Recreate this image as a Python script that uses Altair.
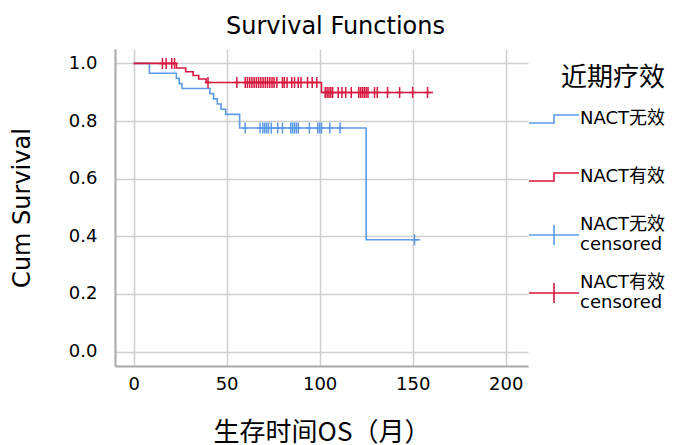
import altair as alt
import pandas as pd

# Kaplan-Meier step curves (time in months, cumulative survival)
blue_t = [0, 8.5, 23, 24.5, 26, 41, 43, 45, 47, 49.5, 57, 125, 154]
blue_s = [1.0, 0.966, 0.948, 0.930, 0.913, 0.895, 0.877, 0.859, 0.841, 0.823, 0.776, 0.388, 0.388]
red_t = [0, 23, 28, 32, 35, 39, 101, 161]
red_s = [1.0, 0.984, 0.971, 0.958, 0.946, 0.934, 0.899, 0.899]

# censored times
blue_cens = [60, 68, 69.5, 70.5, 71.5, 72.5, 74, 77.5, 80, 84.5, 85.5, 86.5, 87.5, 88.5,
             94.5, 99, 100, 101, 105.5, 111, 151]
red_cens = [15.5, 17.5, 20.5, 22, 40, 55.5, 60, 61.2, 62.4, 63.6, 64.8, 66, 67.2, 68.4, 69.6,
            70.8, 72, 73.2, 74.4, 75.5, 77, 80, 81, 82.5, 85, 86.5, 88.5, 90, 93.5, 96, 98.5,
            103, 104, 105, 106, 107, 110, 112, 114, 117, 121, 122, 123, 124, 125, 126, 129.5,
            131, 136.5, 143, 150, 158]

groups = ["NACT无效", "NACT有效", "NACT无效 censored", "NACT有效 censored"]
colors = ["#5b9be8", "#d8173f", "#5b9be8", "#d8173f"]


def surv_at(t, ts, ss):
    v = ss[0]
    for tt, s in zip(ts, ss):
        if tt <= t:
            v = s
    return v


line_rows = [{"t": t, "s": s, "group": groups[0]} for t, s in zip(blue_t, blue_s)]
line_rows += [{"t": t, "s": s, "group": groups[1]} for t, s in zip(red_t, red_s)]
line_df = pd.DataFrame(line_rows)

cens_rows = [{"t": t, "s": surv_at(t, blue_t, blue_s), "group": groups[2]} for t in blue_cens]
cens_rows += [{"t": t, "s": surv_at(t, red_t, red_s), "group": groups[3]} for t in red_cens]
cens_df = pd.DataFrame(cens_rows)

LAT = "DejaVu Sans, Noto Sans CJK SC"
CJK = "Noto Sans CJK SC, DejaVu Sans"

xenc = alt.X("t:Q", scale=alt.Scale(domain=[-10, 212], nice=False, zero=False),
             axis=alt.Axis(values=[0, 50, 100, 150, 200], title="生存时间OS（月）",
                           labelPadding=9, titlePadding=26, titleFontSize=26, titleFont=CJK))
yenc = alt.Y("s:Q", scale=alt.Scale(domain=[-0.05, 1.05], nice=False, zero=False),
             axis=alt.Axis(values=[0, 0.2, 0.4, 0.6, 0.8, 1.0], format=".1f", title="Cum Survival",
                           labelPadding=18, titlePadding=34, titleFontSize=24, titleFont=LAT))

# legend symbols: a step for the curves, a cross on a line for censored marks
STEP = "M-1,0.16H0V-0.16H1"
CROSS = "M-1,0H1M0,-0.4V0.4"
IS_CENS = "indexof(datum.value, 'censored') >= 0"
legend = alt.Legend(
    title="近期疗效", orient="none", legendX=413, legendY=16,
    symbolType={"expr": f"{IS_CENS} ? '{CROSS}' : '{STEP}'"},
    symbolSize=2500, symbolStrokeWidth=1.6, symbolFillColor="transparent",
    labelExpr="split(datum.label, ' ')",
    labelBaseline={"expr": f"{IS_CENS} ? 'line-bottom' : 'middle'"},
    labelFontSize=18, labelFont=LAT, labelLimit=300, clipHeight=50,
    labelOffset=0, rowPadding=8, titleFontSize=26, titleFont=CJK,
    titleFontWeight="normal", titleAnchor="end", titlePadding=3, padding=0,
)
color = alt.Color("group:N", scale=alt.Scale(domain=groups, range=colors), legend=legend)

lines = alt.Chart(line_df).mark_line(interpolate="step-after", strokeWidth=1.6).encode(
    x=xenc, y=yenc, color=color, detail="group:N")
pts = alt.Chart(cens_df).mark_point(shape="M-0.6,0H0.6M0,-1V1", size=121, filled=False,
                                    strokeWidth=1.5, opacity=1).encode(
    x=xenc, y=yenc, color=color)

chart = alt.layer(lines, pts).properties(
    width=413, height=317,
    title=alt.TitleParams("Survival Functions", fontSize=24, font=LAT, fontWeight="normal",
                          anchor="middle", frame="group", dx=14, offset=10),
    padding={"left": 2, "top": 7, "right": 0, "bottom": 0},
).configure_view(stroke=None).configure_axis(
    domainColor="#a8a8a8", domainWidth=2, gridColor="#cfcfcf", gridWidth=1.5, ticks=False,
    labelFontSize=18, labelFont=LAT, labelColor="#000000", titleColor="#000000",
    titleFontWeight="normal",
)

chart.save("out.html", embed_options={"renderer": "svg", "actions": False})
